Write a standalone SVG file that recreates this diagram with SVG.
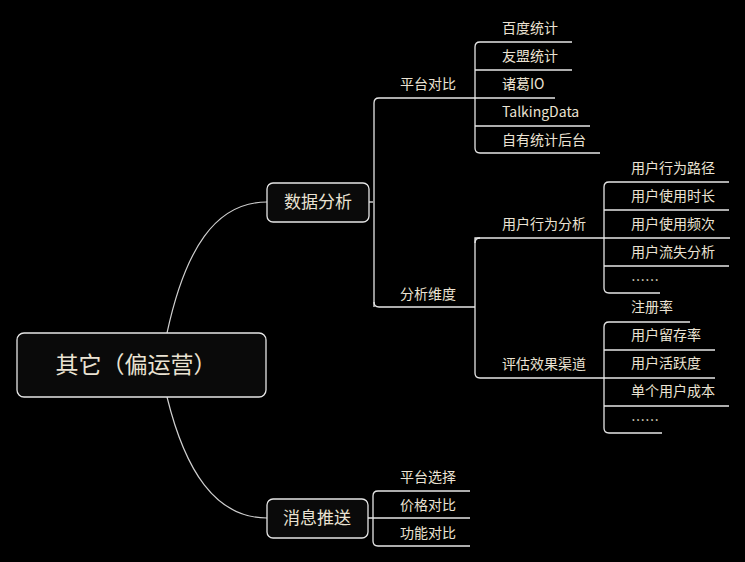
<svg xmlns="http://www.w3.org/2000/svg" width="745" height="562" viewBox="0 0 745 562">
<style>
.l{fill:none;stroke:#e6e6e6;stroke-width:1.3}
.c{fill:none;stroke:#cfcfcf;stroke-width:1.2}
.n{fill:#0a0a0a;stroke:#e6e6e6;stroke-width:1.3}
text{font-family:"Noto Sans CJK SC","Liberation Sans",sans-serif;fill:#ebe3d3;font-size:14px}
.b{font-size:17px}
.r{font-size:23px}
</style>
<rect width="745" height="562" fill="#000"/>
<g id="connectors">
<path class="c" d="M167,333 C185,250 215,202 267,202"/>
<path class="c" d="M167,397 C185,470 215,518 267,518"/>
<path class="l" d="M369,202 H373"/>
<path class="l" d="M374,307 V103 Q374,98 379,98 H555"/>
<path class="l" d="M374,302 Q374,307 379,307 H475"/>
<path class="l" d="M572,42 H480 Q475,42 475,47 V148 Q475,153 480,153 H600"/>
<path class="l" d="M475,70 H572 M475,126 H590"/>
<path class="l" d="M604,238 H475 V373 Q475,378 480,378 H604"/>
<path class="l" d="M475,243 Q475,238 480,238"/>
<path class="l" d="M729,182 H609 Q604,182 604,187 V288 Q604,293 609,293 H660"/>
<path class="l" d="M604,210 H729 M604,238 H730 M604,266 H729"/>
<path class="l" d="M690,322 H609 Q604,322 604,327 V428 Q604,433 609,433 H662"/>
<path class="l" d="M604,350 H715 M604,378 H715 M604,406 H729"/>
<path class="l" d="M368,518 H470"/>
<path class="l" d="M470,491 H378 Q373,491 373,496 V541 Q373,546 378,546 H470"/>
</g>
<g id="root"><rect class="n" x="17" y="333" width="249" height="64" rx="7"/><text class="r" x="136" y="373" text-anchor="middle">其它（偏运营）</text></g>
<g id="n-data"><rect class="n" x="267" y="183" width="102" height="39" rx="6"/><text class="b" x="318" y="208" text-anchor="middle">数据分析</text></g>
<g id="n-push"><rect class="n" x="267" y="499" width="101" height="39" rx="6"/><text class="b" x="317" y="524" text-anchor="middle">消息推送</text></g>
<g id="t1"><text x="400" y="89">平台对比</text><text x="400" y="299">分析维度</text></g>
<g id="t2"><text x="502" y="33">百度统计</text><text x="502" y="61">友盟统计</text><text x="502" y="89">诸葛IO</text><text x="502" y="117" font-family="Liberation Serif,serif">TalkingData</text><text x="502" y="145">自有统计后台</text></g>
<g id="t3"><text x="502" y="229">用户行为分析</text><text x="502" y="369">评估效果渠道</text></g>
<g id="t4"><text x="631" y="173">用户行为路径</text><text x="631" y="201">用户使用时长</text><text x="631" y="229">用户使用频次</text><text x="631" y="257">用户流失分析</text><text x="631" y="285" font-size="10">……</text></g>
<g id="t5"><text x="631" y="312">注册率</text><text x="631" y="340">用户留存率</text><text x="631" y="368">用户活跃度</text><text x="631" y="396">单个用户成本</text><text x="631" y="425" font-size="10">……</text></g>
<g id="t6"><text x="400" y="482">平台选择</text><text x="400" y="510">价格对比</text><text x="400" y="538">功能对比</text></g>
</svg>
